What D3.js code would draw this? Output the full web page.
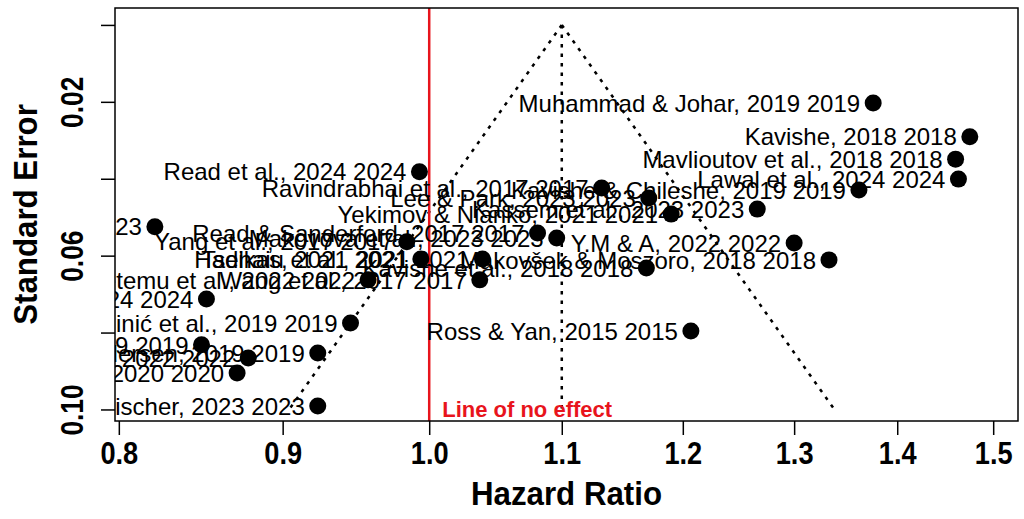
<!DOCTYPE html>
<html><head><meta charset="utf-8">
<script src="https://cdn.jsdelivr.net/npm/d3@7"></script>
<style>body{margin:0;background:#fff;} svg{display:block;}</style>
</head><body>
<svg id="chart" width="1024" height="519"></svg>
<script>
// ---- data ----
const studies = [
  "Muhammad & Johar, 2019 2019", "Kavishe, 2018 2018", "Mavlioutov et al., 2018 2018",
  "Lawal et al., 2024 2024", "Kavishe & Chileshe, 2019 2019", "Read et al., 2024 2024",
  "Ravindrabhai et al., 2017 2017", "Lee & Park, 2023 2023", "Kassem et al., 2023 2023",
  "Yekimov & Nianko, 2021 2021", "Abdelaty et al., 2023 2023", "Read & Sanderford, 2017 2017",
  "Makovova et al., 2023 2023", "Yang et al., 2017 2017", "Y.M & A, 2022 2022",
  "Hadikas, 2021 2021", "Tsehaiu et al., 2021 2021", "Makovšek & Moszoro, 2018 2018",
  "Kavishe et al., 2018 2018", "Gebretemu et al., 2022 2022", "Wang et al., 2017 2017",
  "Alemu et al., 2024 2024", "Mladinić et al., 2019 2019", "Ahmed et al., 2019 2019",
  "Ofori et al., 2022 2022", "Pedersen, 2019 2019", "Owusu et al., 2020 2020",
  "Fischer, 2023 2023", "Ross & Yan, 2015 2015"
];
const hazardRatio = [
  1.376, 1.475, 1.460, 1.463, 1.362, 0.993, 1.132, 1.171, 1.266, 1.190,
  0.821, 1.081, 1.096, 0.984, 1.300, 0.994, 1.039, 1.333, 1.169, 0.957,
  1.037, 0.852, 0.945, 0.849, 0.878, 0.923, 0.871, 0.923, 1.207
];
const standardError = [
  0.0203, 0.0291, 0.0349, 0.0401, 0.0429, 0.0382, 0.0424, 0.0450, 0.0479, 0.0492,
  0.0525, 0.0541, 0.0554, 0.0564, 0.0567, 0.0609, 0.0609, 0.0611, 0.0632, 0.0663,
  0.0663, 0.0713, 0.0775, 0.0832, 0.0866, 0.0853, 0.0905, 0.0991, 0.0796
];
const xTicks = [0.8, 0.9, 1.0, 1.1, 1.2, 1.3, 1.4, 1.5];
const xTickLabels = ["0.8", "0.9", "1.0", "1.1", "1.2", "1.3", "1.4", "1.5"];
const yTicks = [0, 0.02, 0.04, 0.06, 0.08, 0.10];
const yTickLabels = ["", "0.02", "", "0.06", "", "0.10"];
const pooledEffect = 1.1;
const nullEffect = 1.0;
const maxSE = 0.10;
const xTitle = "Hazard Ratio";
const yTitle = "Standard Error";
const nullLabel = "Line of no effect";

// ---- layout ----
const svg = d3.select("#chart");
const plot = {left: 115, right: 1018, top: 8, bottom: 421};
const x = d3.scaleLog().domain([0.7978, 1.527]).range([plot.left, plot.right]);
const y = d3.scaleLinear().domain([-0.0044, 0.103]).range([plot.top, plot.bottom]);
const FONT = "'Liberation Sans', Arial, Helvetica, sans-serif";

svg.append("defs").append("clipPath").attr("id", "plotclip")
  .append("rect").attr("x", plot.left).attr("y", plot.top)
  .attr("width", plot.right - plot.left).attr("height", plot.bottom - plot.top);

const g = svg.append("g").attr("clip-path", "url(#plotclip)");

// funnel
const lo = pooledEffect * Math.exp(-1.96 * maxSE);
const hi = pooledEffect * Math.exp(1.96 * maxSE);
const funnel = [
  [[pooledEffect, 0], [lo, maxSE]],
  [[pooledEffect, 0], [hi, maxSE]],
  [[pooledEffect, 0], [pooledEffect, maxSE]]
];
g.selectAll("line.funnel").data(funnel).join("line").attr("class", "funnel")
  .attr("x1", d => x(d[0][0])).attr("y1", d => y(d[0][1]))
  .attr("x2", d => x(d[1][0])).attr("y2", d => y(d[1][1]))
  .attr("stroke", "#000").attr("stroke-width", 2.5).attr("stroke-dasharray", "3.5,6");

// null line
g.append("line")
  .attr("x1", x(nullEffect)).attr("x2", x(nullEffect))
  .attr("y1", plot.top).attr("y2", plot.bottom)
  .attr("stroke", "#e8141c").attr("stroke-width", 2.5);
g.append("text").text(nullLabel)
  .attr("x", x(nullEffect) + 13).attr("y", 417)
  .attr("fill", "#e8141c").attr("font-family", FONT).attr("font-weight", "bold")
  .attr("font-size", 22);

// points + labels
const data = studies.map((s, i) => ({s, hr: hazardRatio[i], se: standardError[i]}));
g.selectAll("text.lab").data(data).join("text").attr("class", "lab")
  .attr("x", d => x(d.hr) - 13).attr("y", d => y(d.se)).attr("dy", "0.36em")
  .attr("text-anchor", "end").attr("font-family", FONT).attr("font-size", 24)
  .attr("fill", "#000").text(d => d.s);
g.selectAll("circle.pt").data(data).join("circle").attr("class", "pt")
  .attr("cx", d => x(d.hr)).attr("cy", d => y(d.se)).attr("r", 8.5).attr("fill", "#000");

// box
svg.append("rect").attr("x", plot.left).attr("y", plot.top)
  .attr("width", plot.right - plot.left).attr("height", plot.bottom - plot.top)
  .attr("fill", "none").attr("stroke", "#000").attr("stroke-width", 1.5);

// axes
const xAxis = svg.append("g").attr("transform", `translate(0,${plot.bottom})`)
  .call(d3.axisBottom(x).tickValues(xTicks).tickFormat((d, i) => xTickLabels[i]).tickSize(14));
xAxis.select(".domain").remove();
xAxis.selectAll("line").attr("stroke-width", 1.5);
xAxis.selectAll("text").attr("y", 43).attr("dy", 0)
  .attr("font-family", FONT).attr("font-weight", "bold").attr("font-size", 32)
  .attr("transform", "scale(0.85,1)").attr("fill", "#000");

const yAxis = svg.append("g").attr("transform", `translate(${plot.left},0)`)
  .call(d3.axisLeft(y).tickValues(yTicks).tickFormat((d, i) => yTickLabels[i]).tickSize(14));
yAxis.select(".domain").remove();
yAxis.selectAll("line").attr("stroke-width", 1.5);
yAxis.selectAll("text").attr("x", 0).attr("dy", 0).attr("text-anchor", "middle")
  .attr("font-family", FONT).attr("font-weight", "bold").attr("font-size", 31)
  .attr("transform", "translate(-32,0) rotate(-90) scale(0.85,1)").attr("fill", "#000");

// titles
svg.append("text").text(xTitle)
  .attr("transform", `translate(${(plot.left + plot.right) / 2},505) scale(0.92,1)`)
  .attr("text-anchor", "middle").attr("font-family", FONT).attr("font-weight", "bold")
  .attr("font-size", 34);
svg.append("text").text(yTitle)
  .attr("transform", `translate(37,${(plot.top + plot.bottom) / 2}) rotate(-90) scale(0.92,1)`)
  .attr("text-anchor", "middle").attr("font-family", FONT).attr("font-weight", "bold")
  .attr("font-size", 34);
</script>
</body></html>
